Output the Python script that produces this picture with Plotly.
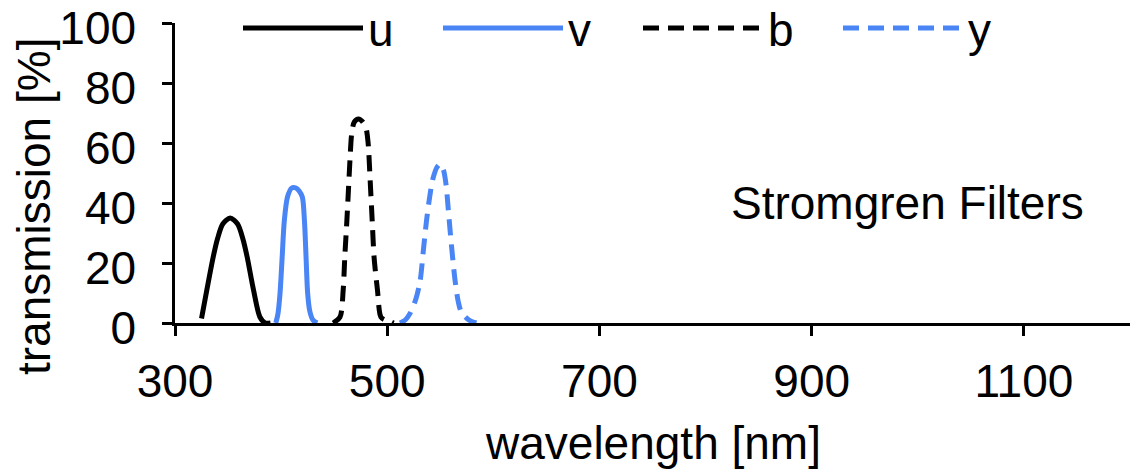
import plotly.graph_objects as go

# ---- data ----
u_wl = [325, 330, 336, 340, 345, 352, 359, 364, 368, 374, 380, 385, 390]
u_tr = [1.5, 11, 22, 28, 33, 35, 33, 28, 22, 11, 2, 0, 0]

v_wl = [395, 397, 399, 401, 403, 406, 410, 414, 417, 420, 422, 423.5, 425, 427, 430, 434]
v_tr = [0, 3, 10, 22, 34, 42, 45, 45, 44, 42, 34, 22, 10, 4, 1, 0]

b_wl = [449, 455.5, 458.5, 460, 461.8, 463.4, 465, 466.5, 469, 473, 477, 480, 482, 484, 486, 487.6, 490.8, 494, 498, 503, 506]
b_tr = [0, 2, 11, 22, 33, 44, 55, 63, 67, 68, 67, 65, 60, 47, 33, 22, 11, 2, 1, 0.5, 0]

y_wl = [512, 517, 521.5, 527, 531, 534, 537, 540, 543, 547, 550, 553, 555.5, 557.5, 560.5, 564, 567, 570, 577, 584]
y_tr = [0, 1, 3.2, 8, 14, 24, 34, 42, 48, 52, 53, 51, 46, 38, 26, 14, 7, 3.5, 1, 0]

series_names = ["u", "v", "b", "y"]
x_ticks = [300, 500, 700, 900, 1100]
y_ticks = [0, 20, 40, 60, 80, 100]

BLACK = "#000000"
BLUE = "#4A85F5"
FONT = "Liberation Sans, Arial, Helvetica, sans-serif"
FS = 46

W, H = 1134, 471
ML, MT = 175, 23
MR = W - 1130
MB = H - 323
PW, PH = W - ML - MR, H - MT - MB

fig = go.Figure()
styles = [
    (u_wl, u_tr, BLACK, "solid"),
    (v_wl, v_tr, BLUE, "solid"),
    (b_wl, b_tr, BLACK, "16px,9px"),
    (y_wl, y_tr, BLUE, "16px,9px"),
]
for name, (xs, ys, col, dash) in zip(series_names, styles):
    fig.add_trace(go.Scatter(
        x=xs, y=ys, name=name, mode="lines",
        line=dict(color=col, width=5, dash=dash, shape="spline", smoothing=0.8),
    ))

fig.update_layout(
    width=W, height=H,
    margin=dict(l=ML, r=MR, t=MT, b=MB, autoexpand=False),
    paper_bgcolor="white", plot_bgcolor="white",
    font=dict(family=FONT, size=FS, color="#000000"),
    showlegend=True,
    legend=dict(
        orientation="h", xref="container", yref="container",
        x=238 / W, xanchor="left", y=1 - 28 / H, yanchor="middle",
        font=dict(size=FS), itemwidth=120, entrywidth=65, entrywidthmode="pixels",
        bgcolor="rgba(0,0,0,0)", tracegroupgap=0, borderwidth=0,
    ),
    xaxis=dict(
        range=[300, 1200], tickvals=x_ticks, ticktext=[str(t) for t in x_ticks],
        showgrid=False, zeroline=False, showline=True, linecolor="black", linewidth=2.5,
        ticks="outside", ticklen=10, tickwidth=2.5, tickcolor="black",
        tickfont=dict(size=FS), ticklabelstandoff=6, automargin=False,
        ticklabeloverflow="allow",
    ),
    yaxis=dict(
        range=[0, 100], tickvals=y_ticks, ticktext=[str(t) for t in y_ticks],
        showgrid=False, zeroline=False, showline=True, linecolor="black", linewidth=2.5,
        ticks="outside", ticklen=10, tickwidth=2.5, tickcolor="black",
        tickfont=dict(size=FS), ticklabelstandoff=17, ticklabelshift=5,
        automargin=False, ticklabeloverflow="allow",
    ),
    annotations=[
        dict(text="Stromgren Filters", x=990, y=40, xref="x", yref="y",
             showarrow=False, xanchor="center", yanchor="middle", font=dict(size=FS)),
        dict(text="wavelength [nm]", x=0.5, y=(323 - 443) / PH, xref="paper", yref="paper",
             showarrow=False, xanchor="center", yanchor="middle", font=dict(size=FS)),
        dict(text="transmission [%]", x=(34 - 175) / PW, y=(323 - 207) / PH,
             xref="paper", yref="paper", showarrow=False, textangle=-90,
             xanchor="center", yanchor="middle", font=dict(size=FS)),
    ],
)

# let the figure fill the window from its top-left corner (no default page margin)
fig.write_html("out.html", config={"displayModeBar": False},
               post_script="document.body.style.margin='0';")
